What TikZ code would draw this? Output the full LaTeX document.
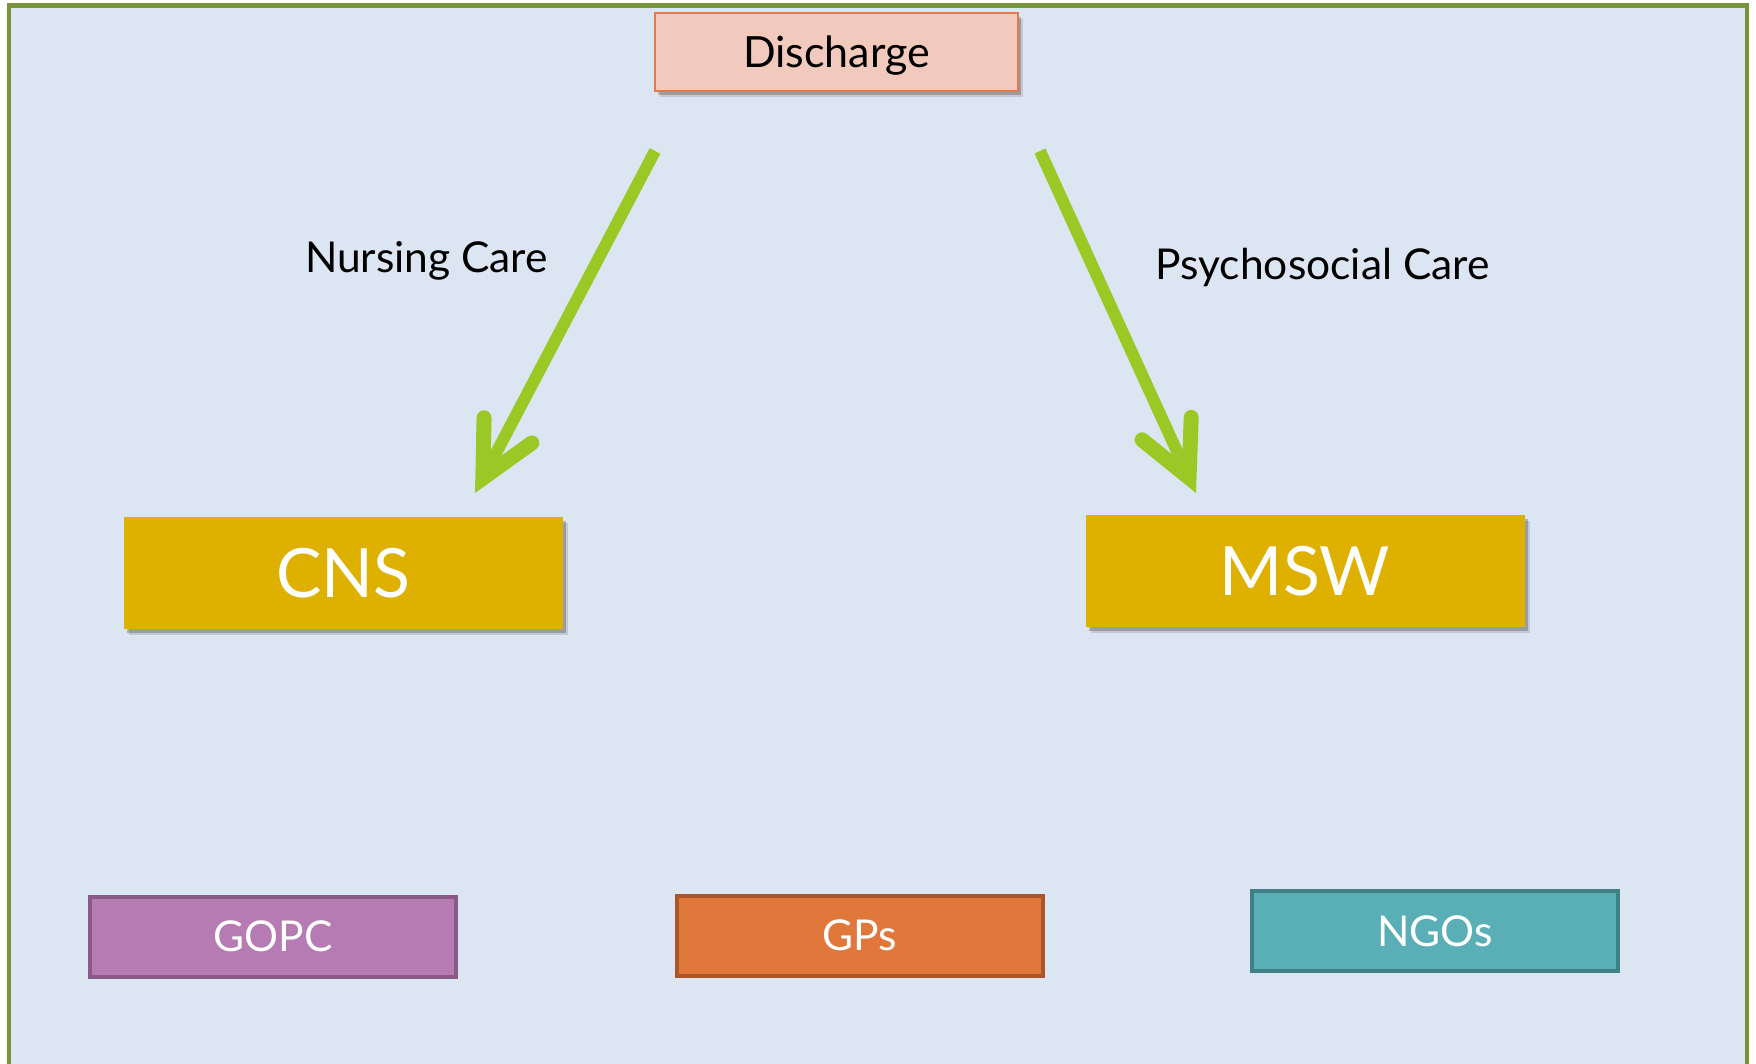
\documentclass[tikz,border=0pt]{standalone}
\usepackage{fontspec}
\setmainfont{Lato}
\usetikzlibrary{arrows.meta,shadows}
\definecolor{bgblue}{RGB}{220,230,242}
\definecolor{frame}{RGB}{119,147,60}
\definecolor{dischfill}{RGB}{242,201,189}
\definecolor{dischline}{RGB}{228,122,75}
\definecolor{gold}{RGB}{222,176,0}
\definecolor{gopcfill}{RGB}{182,123,179}
\definecolor{gopcline}{RGB}{137,90,134}
\definecolor{gpsfill}{RGB}{224,120,60}
\definecolor{gpsline}{RGB}{172,85,42}
\definecolor{ngofill}{RGB}{90,175,183}
\definecolor{ngoline}{RGB}{63,128,135}
\definecolor{arrowgreen}{RGB}{155,200,37}
\tikzset{
  shad/.style={
    drop shadow={shadow xshift=5pt, shadow yshift=-6pt, opacity=0.12, fill=black},
    drop shadow={shadow xshift=3pt, shadow yshift=-4pt, opacity=0.22, fill=black}},
  topbox/.style={draw=dischline, fill=dischfill, line width=2.5pt, minimum width=363pt, minimum height=78pt, inner sep=0pt, shad,
    font=\fontsize{43}{43}\selectfont, text height=31pt, text depth=0pt, text=black},
  bigbox/.style={fill=gold, minimum width=439pt, minimum height=112pt, inner sep=0pt, shad,
    font=\fontsize{68}{68}\selectfont, text height=49pt, text depth=0pt, text=white},
  smallbox/.style={line width=4pt, minimum width=366pt, minimum height=80pt, inner sep=0pt,
    font=\fontsize{42.5}{42.5}\selectfont, text height=30pt, text depth=0pt, text=white},
  lbl/.style={font=\fontsize{42.5}{42.5}\selectfont, text height=30pt, text depth=0pt, text=black, inner sep=0pt},
  bigarrow/.style={draw=arrowgreen, line width=12pt, line cap=butt,
    -{Straight Barb[length=54pt, width=54pt, line width=15pt 0, line cap=round, line join=miter]}}
}
\begin{document}
\begin{tikzpicture}[x=1pt, y=-1pt]
\useasboundingbox (0,0) rectangle (1756,1064);
\fill[white] (0,0) rectangle (1756,1064);
\draw[frame, fill=bgblue, line width=4.5pt] (9,5.5) rectangle (1747,1090);

\node[topbox] (dis) at (836.5,52) {Discharge};
\node[bigbox] (cns) at (343.5,573) {CNS};
\node[bigbox] (msw) at (1305,571) {MSW};
\node[smallbox, draw=gopcline, fill=gopcfill] (gopc) at (273,936.5) {GOPC};
\node[smallbox, draw=gpsline, fill=gpsfill] (gps) at (860,935.5) {GPs};
\node[smallbox, draw=ngoline, fill=ngofill] (ngo) at (1435,931) {NGOs};

\node[lbl] (nc) at (426.5,257.5) {Nursing Care};
\node[lbl] (pc) at (1322.5,265) {Psychosocial Care};

\coordinate (a1s) at (655,151);
\coordinate (a1e) at (475,493);
\coordinate (a2s) at (1040,151);
\coordinate (a2e) at (1196,493);
\draw[bigarrow] (a1s) -- (a1e);
\draw[bigarrow] (a2s) -- (a2e);
\end{tikzpicture}
\end{document}
